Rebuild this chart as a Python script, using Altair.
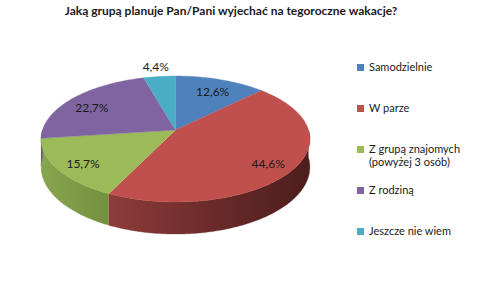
import altair as alt
import numpy as np
import pandas as pd

# ---- data ----
categories = ["Samodzielnie", "W parze", "Z grupą znajomych (powyżej 3 osób)",
              "Z rodziną", "Jeszcze nie wiem"]
values = [12.6, 44.6, 15.7, 22.7, 4.4]
colors = ["#4F81BD", "#C0504D", "#9BBB59", "#8064A2", "#4BACC6"]
title_text = "Jaką grupą planuje Pan/Pani wyjechać na tegoroczne wakacje?"

# ---- layout constants for the simulated 3-D pie (perspective ellipse) ----
CX, CY = 175.5, 130.0
A = 133.0
ALPHA, GAMMA = 43.1, -0.143
DEPTH = 27.5
TOP = 28


def proj(theta_deg, drop=0.0, r=1.0):
    t = np.radians(theta_deg)
    u = r * np.sin(t)
    w = -r * np.cos(t)
    s = 1.0 / (GAMMA * w + 1.0)
    return CX + A * u * s, (ALPHA * w + CY) * s + drop * s


total = float(sum(values))
bounds = np.concatenate([[0.0], np.cumsum(values)]) / total * 360.0

top_rows, side_rows, label_rows = [], [], []
for i, cat in enumerate(categories):
    s0, s1 = bounds[i], bounds[i + 1]
    # top face: centre + arc
    x, y = proj(0.0, r=0.0)
    top_rows.append(dict(cat=cat, idx=0, x=x, y=y))
    n = max(2, int(np.ceil((s1 - s0) / 1.0)))
    for k, th in enumerate(np.linspace(s0, s1, n + 1)):
        x, y = proj(th)
        top_rows.append(dict(cat=cat, idx=k + 1, x=x, y=y))
    # visible side (front half 90..270 deg)
    a0, a1 = max(s0, 90.0), min(s1, 270.0)
    if a1 > a0:
        m = max(2, int(np.ceil((a1 - a0) / 1.0)))
        arc = np.linspace(a0, a1, m + 1)
        j = 0
        for th in arc:
            x, y = proj(th)
            side_rows.append(dict(cat=cat, idx=j, x=x, y=y)); j += 1
        for th in arc[::-1]:
            x, y = proj(th, drop=DEPTH)
            side_rows.append(dict(cat=cat, idx=j, x=x, y=y)); j += 1
    # label: inside for large slices, outside above for small ones
    mid = (s0 + s1) / 2.0
    rr = 1.27 if values[i] < 5 else 0.8
    lx, ly = proj(mid, r=rr)
    label_rows.append(dict(cat=cat, x=lx, y=ly, v=values[i]))

top_df = pd.DataFrame(top_rows)
side_df = pd.DataFrame(side_rows)
lab_df = pd.DataFrame(label_rows)

W, H = 480, 288
xs = alt.Scale(domain=[0, W], zero=False, nice=False)
ys = alt.Scale(domain=[TOP, H], zero=False, nice=False, reverse=True)
cscale = alt.Scale(domain=categories, range=colors)

side_grad = {
    categories[1]: ["#8E3C3A", "#6A2B2A", "#4C1E1D"],
    categories[2]: ["#88A54F", "#7F9B47", "#748F3F"],
    categories[3]: ["#6E578C", "#6A5388", "#655084"],
}

layers = []
for cat, stops in side_grad.items():
    if cat not in set(side_df["cat"]):
        continue
    grad = alt.Gradient(
        gradient="linear",
        stops=[alt.GradientStop(color=stops[0], offset=0),
               alt.GradientStop(color=stops[1], offset=0.5),
               alt.GradientStop(color=stops[2], offset=1)],
        x1=0, x2=1, y1=0, y2=0,
    )
    layers.append(
        alt.Chart(side_df).transform_filter(alt.datum.cat == cat)
        .mark_line(filled=True, fill=grad, stroke=stops[1], strokeWidth=0.3)
        .encode(x=alt.X("x:Q", scale=xs, axis=None),
                y=alt.Y("y:Q", scale=ys, axis=None),
                order="idx:Q")
    )

legend = alt.Legend(
    title=None, orient="none", legendX=355, legendY=34,
    symbolType="square", symbolSize=49, symbolStrokeWidth=0,
    labelFont="Lato", labelFontSize=11, labelColor="#1a1a1a",
    labelOffset=3, rowPadding=16, padding=0, labelLimit=200,
    gridAlign="all",
    labelExpr="indexof(datum.label, ' (') > 0 ? [substring(datum.label, 0, indexof(datum.label, ' (')), substring(datum.label, indexof(datum.label, ' (') + 1)] : datum.label",
)

top_layer = alt.Chart(top_df).mark_line(filled=True, strokeWidth=0.4).encode(
    x=alt.X("x:Q", scale=xs, axis=None),
    y=alt.Y("y:Q", scale=ys, axis=None),
    color=alt.Color("cat:N", scale=cscale, legend=legend, sort=categories),
    stroke=alt.Stroke("cat:N", scale=cscale, legend=None),
    detail="cat:N",
    order="idx:Q",
)

labels = alt.Chart(lab_df).transform_calculate(
    txt="replace(format(datum.v, '.1f'), '.', ',') + '%'"
).mark_text(font="Lato", fontSize=12, color="#1a1a1a", dy=3).encode(
    x=alt.X("x:Q", scale=xs, axis=None),
    y=alt.Y("y:Q", scale=ys, axis=None),
    text="txt:N",
)

chart = alt.layer(*layers, top_layer, labels).properties(
    width=W, height=H - TOP,
    padding={"left": 0, "right": 0, "top": TOP, "bottom": 0},
    autosize=alt.AutoSizeParams(type="none"),
    background="white",
    title=alt.TitleParams(title_text, font="Lato", fontSize=12, fontWeight="bold",
                          color="#1a1a1a", anchor="middle", offset=10, dx=-9),
).configure_view(stroke=None, strokeWidth=0)

chart.save("out.html", embed_options={"renderer": "svg", "actions": False})
